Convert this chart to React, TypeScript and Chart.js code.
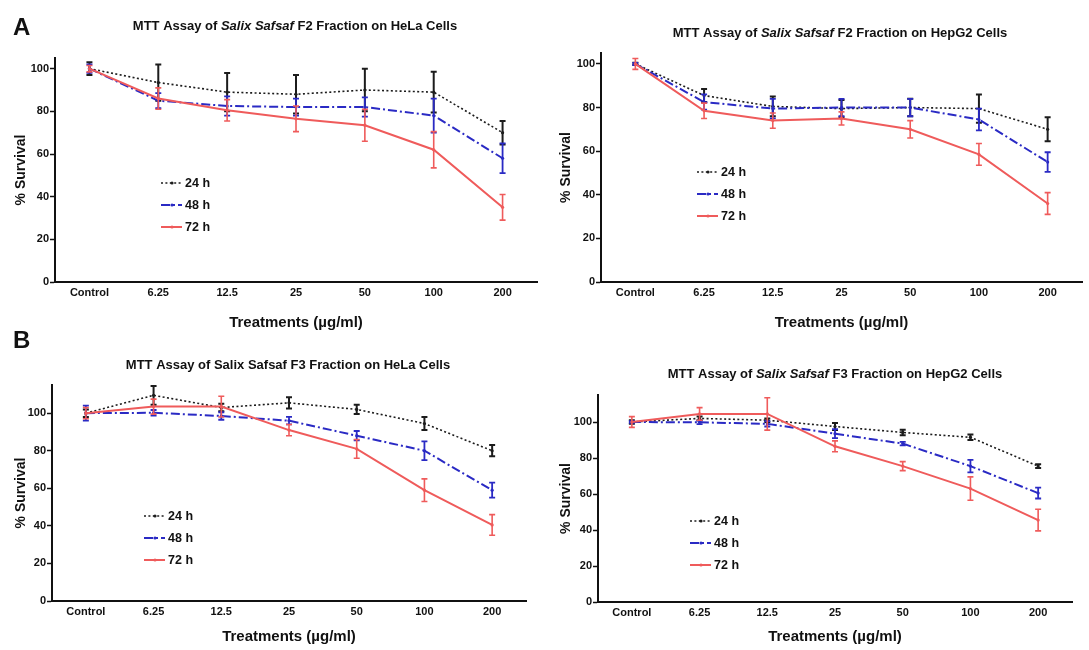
import React, { useEffect, useRef } from 'react';
import { Chart, registerables } from 'chart.js';

Chart.register(...registerables);

const FONT = "'Liberation Sans', Arial, Helvetica, sans-serif";

const categories = ['Control', '6.25', '12.5', '25', '50', '100', '200'];
const seriesLabels = ['24 h', '48 h', '72 h'];
const yTickStep = 20;

// Panel A left: F2 on HeLa
const f2HelaMean24 = [100, 93.5, 89, 88, 90, 89, 70];
const f2HelaErr24 = [3, 8.5, 9, 9, 10, 9.5, 5.5];
const f2HelaMean48 = [100, 85, 82.5, 82, 82, 78, 58];
const f2HelaErr48 = [2, 3.5, 4.5, 4, 4.5, 8, 7];
const f2HelaMean72 = [100, 86, 80.5, 76.5, 73.5, 62, 35];
const f2HelaErr72 = [1.5, 5, 5, 6, 7.5, 8.5, 6];

// Panel A right: F2 on HepG2
const f2HepMean24 = [100, 85.5, 80.5, 79.5, 80, 79.5, 70];
const f2HepErr24 = [0.5, 3, 4.5, 4, 4, 6.5, 5.5];
const f2HepMean48 = [100, 82.5, 79.5, 80, 80, 74.5, 55];
const f2HepErr48 = [0.5, 3.5, 4.5, 4, 4, 5, 4.5];
const f2HepMean72 = [100, 78.5, 74, 75, 70, 58.5, 36];
const f2HepErr72 = [2.5, 3.5, 3.5, 3, 4, 5, 5];

// Panel B left: F3 on HeLa
const f3HelaMean24 = [100, 109.5, 103, 105.5, 102, 94.5, 80];
const f3HelaErr24 = [2, 5, 2, 3, 2.5, 3.5, 3];
const f3HelaMean48 = [100, 100.2, 98.5, 96, 88, 80, 59];
const f3HelaErr48 = [4, 1.5, 2, 2, 2.5, 5, 4];
const f3HelaMean72 = [100, 103.5, 103.5, 91, 81, 59, 40.5];
const f3HelaErr72 = [3, 4, 5.5, 3, 5, 6, 5.5];

// Panel B right: F3 on HepG2
const f3HepMean24 = [100, 102, 101, 97.5, 94.2, 91.5, 75.5];
const f3HepErr24 = [1, 1, 1, 2, 1.5, 1.5, 1];
const f3HepMean48 = [100, 99.8, 99, 93.5, 88, 75.5, 60.5];
const f3HepErr48 = [0.5, 1, 1.5, 2.5, 1, 3.5, 3];
const f3HepMean72 = [100, 104.5, 104.5, 86.5, 75.5, 63, 45.5];
const f3HepErr72 = [3, 3.5, 9, 3, 2.5, 6.5, 6];

const titleF2Hela = [['MTT Assay of ', false], ['Salix Safsaf', true], [' F2 Fraction on HeLa Cells', false]];
const titleF2Hep = [['MTT Assay of ', false], ['Salix Safsaf', true], [' F2 Fraction on HepG2 Cells', false]];
const titleF3Hela = [['MTT Assay of Salix Safsaf F3 Fraction on HeLa Cells', false]];
const titleF3Hep = [['MTT Assay of ', false], ['Salix Safsaf', true], [' F3 Fraction on HepG2 Cells', false]];

const xAxisTitle = 'Treatments (µg/ml)';
const yAxisTitle = '% Survival';

const STYLES = [
  { color: '#1c1c1c', dash: [2, 2.4], width: 1.6, errWidth: 2, order: 3 },
  { color: '#2a2ac4', dash: [9, 3, 2, 3], width: 2, errWidth: 1.8, order: 2 },
  { color: '#ef5b5b', dash: [], width: 2, errWidth: 1.6, order: 1 },
];

const errorBarPlugin = {
  id: 'errorBars',
  afterDatasetDraw(chart: any, args: any) {
    const ds = chart.data.datasets[args.index];
    const errs = ds.errors;
    if (!errs) return;
    const yScale = chart.scales.y;
    const ctx = chart.ctx;
    ctx.save();
    ctx.strokeStyle = ds.borderColor;
    ctx.lineWidth = ds.errWidth || 1.5;
    ctx.setLineDash([]);
    args.meta.data.forEach((pt: any, i: number) => {
      const v = ds.data[i];
      const e = errs[i];
      if (!e) return;
      const x = pt.x;
      const y1 = yScale.getPixelForValue(v + e);
      const y2 = yScale.getPixelForValue(v - e);
      ctx.beginPath();
      ctx.moveTo(x, y1);
      ctx.lineTo(x, y2);
      ctx.moveTo(x - 3, y1);
      ctx.lineTo(x + 3, y1);
      ctx.moveTo(x - 3, y2);
      ctx.lineTo(x + 3, y2);
      ctx.stroke();
    });
    ctx.restore();
  },
};

const richTitlePlugin = {
  id: 'richTitle',
  afterDraw(chart: any, _args: any, opts: any) {
    if (!opts || !opts.segments) return;
    const ctx = chart.ctx;
    ctx.save();
    ctx.fillStyle = '#111';
    ctx.textBaseline = 'middle';
    ctx.textAlign = 'left';
    const fontFor = (it: boolean) => `${it ? 'italic ' : ''}bold ${opts.size}px ${FONT}`;
    let total = 0;
    opts.segments.forEach((s: any) => {
      ctx.font = fontFor(s[1]);
      total += ctx.measureText(s[0]).width;
    });
    let x = opts.x - total / 2;
    opts.segments.forEach((s: any) => {
      ctx.font = fontFor(s[1]);
      ctx.fillText(s[0], x, opts.y);
      x += ctx.measureText(s[0]).width;
    });
    ctx.restore();
  },
};

const insideLegendPlugin = {
  id: 'insideLegend',
  afterDraw(chart: any, _args: any, opts: any) {
    if (!opts || opts.x == null) return;
    const ctx = chart.ctx;
    ctx.save();
    chart.data.datasets.forEach((ds: any, i: number) => {
      const y = opts.y + i * opts.gap;
      ctx.strokeStyle = ds.borderColor;
      ctx.lineWidth = ds.borderWidth;
      ctx.setLineDash(ds.borderDash || []);
      ctx.beginPath();
      ctx.moveTo(opts.x, y);
      ctx.lineTo(opts.x + 21, y);
      ctx.stroke();
      ctx.setLineDash([]);
      ctx.fillStyle = ds.borderColor;
      ctx.beginPath();
      ctx.arc(opts.x + 11, y, 1.6, 0, Math.PI * 2);
      ctx.fill();
      ctx.fillStyle = '#111';
      ctx.font = `bold 12.5px ${FONT}`;
      ctx.textBaseline = 'middle';
      ctx.fillText(ds.label, opts.x + 24, y + 0.5);
    });
    ctx.restore();
  },
};

type PanelCfg = {
  left: number; top: number; w: number; h: number;
  area: { left: number; top: number; right: number; bottom: number };
  yMax: number;
  means: number[][];
  errs: number[][];
  title: any[];
  titlePos: { x: number; y: number };
  legendPos: { x: number; y: number };
};

function Panel({ cfg }: { cfg: PanelCfg }) {
  const ref = useRef<HTMLCanvasElement | null>(null);
  useEffect(() => {
    if (!ref.current) return;
    const padLeft = 9;
    const chart = new Chart(ref.current, {
      type: 'line',
      data: {
        labels: categories,
        datasets: seriesLabels.map((label, i) => ({
          label,
          data: cfg.means[i],
          errors: cfg.errs[i],
          errWidth: STYLES[i].errWidth,
          borderColor: STYLES[i].color,
          backgroundColor: STYLES[i].color,
          borderWidth: STYLES[i].width,
          borderDash: STYLES[i].dash,
          pointRadius: 1.6,
          pointBorderWidth: 0,
          pointBackgroundColor: STYLES[i].color,
          tension: 0,
          fill: false,
          order: STYLES[i].order,
        })) as any,
      },
      options: {
        animation: false,
        responsive: false,
        events: [],
        layout: {
          padding: { left: padLeft, top: cfg.area.top, right: cfg.w - cfg.area.right, bottom: 0 },
        },
        plugins: {
          legend: { display: false },
          tooltip: { enabled: false },
          title: { display: false },
          richTitle: { segments: cfg.title, x: cfg.titlePos.x, y: cfg.titlePos.y, size: 13 },
          insideLegend: { x: cfg.legendPos.x, y: cfg.legendPos.y, gap: 22 },
        } as any,
        scales: {
          x: {
            type: 'category',
            offset: true,
            grid: { display: false, drawTicks: false },
            border: { display: true, color: '#111', width: 2 },
            ticks: {
              color: '#111',
              font: { family: FONT, size: 11, weight: 'bold' },
              padding: 4,
              maxRotation: 0,
              autoSkip: false,
            },
            title: {
              display: true,
              text: xAxisTitle,
              color: '#111',
              font: { family: FONT, size: 15, weight: 'bold' },
              padding: { top: 4, bottom: 4 },
            },
            afterFit: (s: any) => { s.height = cfg.h - cfg.area.bottom; },
          },
          y: {
            type: 'linear',
            min: 0,
            max: cfg.yMax,
            grid: {
              drawOnChartArea: false,
              drawTicks: true,
              tickLength: 5,
              tickColor: '#111',
              tickWidth: 1.5,
              color: '#111',
            },
            border: { display: true, color: '#111', width: 2 },
            ticks: {
              stepSize: yTickStep,
              includeBounds: false,
              color: '#111',
              font: { family: FONT, size: 11, weight: 'bold' },
              padding: 1,
            },
            title: {
              display: true,
              text: yAxisTitle,
              color: '#111',
              font: { family: FONT, size: 14, weight: 'bold' },
              padding: { top: 4, bottom: 4 },
            },
            afterFit: (s: any) => { s.width = cfg.area.left - padLeft; },
          },
        } as any,
      },
      plugins: [errorBarPlugin, richTitlePlugin, insideLegendPlugin],
    } as any);
    return () => chart.destroy();
  }, [cfg]);
  return (
    <canvas
      ref={ref}
      width={cfg.w}
      height={cfg.h}
      style={{ position: 'absolute', left: cfg.left, top: cfg.top, width: cfg.w, height: cfg.h }}
    />
  );
}

const panels: PanelCfg[] = [
  {
    left: 0, top: 0, w: 545, h: 336,
    area: { left: 55, top: 58, right: 537, bottom: 282 },
    yMax: 105,
    means: [f2HelaMean24, f2HelaMean48, f2HelaMean72],
    errs: [f2HelaErr24, f2HelaErr48, f2HelaErr72],
    title: titleF2Hela,
    titlePos: { x: 295, y: 26 },
    legendPos: { x: 161, y: 183 },
  },
  {
    left: 545, top: 0, w: 544, h: 336,
    area: { left: 56, top: 53, right: 537, bottom: 282 },
    yMax: 105,
    means: [f2HepMean24, f2HepMean48, f2HepMean72],
    errs: [f2HepErr24, f2HepErr48, f2HepErr72],
    title: titleF2Hep,
    titlePos: { x: 295, y: 33 },
    legendPos: { x: 152, y: 172 },
  },
  {
    left: 0, top: 330, w: 545, h: 320,
    area: { left: 52, top: 55, right: 526, bottom: 271 },
    yMax: 115,
    means: [f3HelaMean24, f3HelaMean48, f3HelaMean72],
    errs: [f3HelaErr24, f3HelaErr48, f3HelaErr72],
    title: titleF3Hela,
    titlePos: { x: 288, y: 35 },
    legendPos: { x: 144, y: 186 },
  },
  {
    left: 545, top: 330, w: 544, h: 320,
    area: { left: 53, top: 65, right: 527, bottom: 272 },
    yMax: 115,
    means: [f3HepMean24, f3HepMean48, f3HepMean72],
    errs: [f3HepErr24, f3HepErr48, f3HepErr72],
    title: titleF3Hep,
    titlePos: { x: 290, y: 44 },
    legendPos: { x: 145, y: 191 },
  },
];

export default function App() {
  return (
    <div style={{ position: 'absolute', left: 0, top: 0, width: 1089, height: 650, background: '#fff', overflow: 'hidden' }}>
      {panels.map((p, i) => (
        <Panel key={i} cfg={p} />
      ))}
      <div style={{ position: 'absolute', left: 13, top: 15, font: `bold 24px/24px ${FONT}`, color: '#111' }}>A</div>
      <div style={{ position: 'absolute', left: 13, top: 328, font: `bold 24px/24px ${FONT}`, color: '#111' }}>B</div>
    </div>
  );
}
